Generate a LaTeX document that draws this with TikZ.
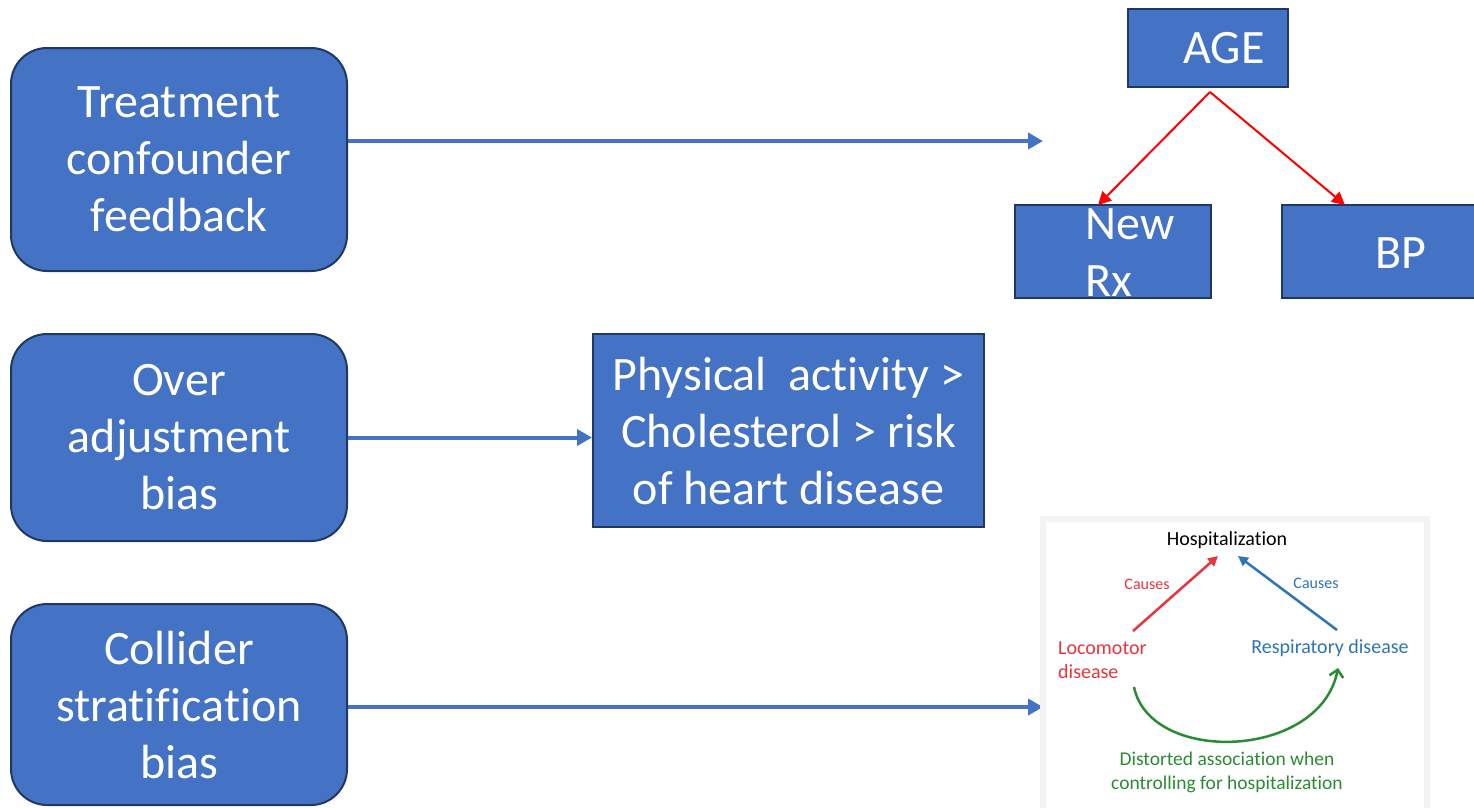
\documentclass[tikz,border=0pt]{standalone}
\usepackage{fontspec}
\setmainfont{Carlito}[Ligatures=NoCommon]
\usetikzlibrary{arrows.meta}
\definecolor{boxblue}{HTML}{4472C4}
\definecolor{boxedge}{HTML}{203864}
\definecolor{linkblue}{HTML}{4472C4}
\definecolor{agered}{HTML}{FF0000}
\definecolor{cred}{HTML}{E8343F}
\definecolor{cblue}{HTML}{2E75B6}
\definecolor{cgreen}{HTML}{2A8C32}
\definecolor{panelgray}{HTML}{F3F3F3}
\tikzset{
  bigfont/.style={font=\fontsize{48}{57}\selectfont},
  lbox/.style={draw=boxedge, fill=boxblue, line width=2pt, rounded corners=36pt,
    text=white, align=center, bigfont, minimum width=336pt, inner sep=0pt},
  sbox/.style={draw=boxedge, fill=boxblue, line width=2pt, text=white,
    align=center, bigfont, inner sep=0pt},
  wtext/.style={text=white, bigfont, inner sep=0pt},
  barrow/.style={draw=linkblue, line width=4pt, -{Triangle[length=15pt,width=16pt]}},
  rarrow/.style={draw=agered, line width=2pt, -{Triangle[length=13pt,width=13pt]}},
  smallfont/.style={font=\fontsize{20}{24}\selectfont, inner sep=0pt},
  tinyfont/.style={font=\fontsize{16}{19}\selectfont, inner sep=0pt},
}
\begin{document}
\begin{tikzpicture}[x=1pt,y=-1pt]
\useasboundingbox (0,0) rectangle (1474,807);
\fill[white] (0,0) rectangle (1474,807);

% left boxes
\node[lbox, minimum height=223pt] (b1) at (179,159.5) {Treatment\\confounder\\feedback};
\node[lbox, minimum height=207pt] (b2) at (179,437.5) {Over\\adjustment\\bias};
\node[lbox, minimum height=201pt] (b3) at (179,704.5) {Collider\\stratification\\bias};

% middle box
\node[sbox, minimum width=391pt, minimum height=193pt] (b4) at (788.5,430.5)
  {Physical\ \ activity >\\Cholesterol > risk\\of heart disease};

% top-right boxes
\node[sbox, minimum width=160pt, minimum height=78pt] (age) at (1208,48) {};
\node[wtext] (agetext) at (1224,48) {AGE};
\node[sbox, minimum width=196pt, minimum height=93pt] (nrx) at (1113,251.5) {};
\node[wtext, align=left] (nrxtext) at (1130,253) {New\\Rx};
\node[sbox, minimum width=196pt, minimum height=93pt] (bp) at (1380,251.5) {};
\node[wtext] (bptext) at (1401,253) {BP};

% blue connectors
\coordinate (a1end) at (1043,141);
\coordinate (a3end) at (1043,707);
\draw[barrow] (b1.east |- a1end) -- (a1end);
\draw[barrow] (b2.east) -- (b4.west |- b2.east);
\draw[barrow] (b3.east |- a3end) -- (a3end);

% red connectors
\coordinate (agebot) at (1210,92);
\coordinate (nrxtop) at (1098,205);
\coordinate (bptop) at (1345,205);
\draw[rarrow] (agebot) -- (nrxtop);
\draw[rarrow] (agebot) -- (bptop);

% bottom-right panel
\draw[panelgray, fill=white, line width=6pt] (1043,519) rectangle (1427,812);
\node[smallfont, text=black] (hosp) at (1227,540) {Hospitalization};
\node[smallfont, text=cred, align=left, anchor=west] (loco) at (1058,660) {Locomotor\\disease};
\node[smallfont, text=cblue] (resp) at (1330,648) {Respiratory disease};
\node[tinyfont, text=cred] (causes1) at (1147,584) {Causes};
\node[tinyfont, text=cblue] (causes2) at (1316,583) {Causes};
\node[font=\fontsize{19.5}{24}\selectfont, inner sep=0pt, text=cgreen, align=center] (dist) at (1227,772)
  {Distorted association when\\controlling for hospitalization};

\coordinate (lstart) at (1133,631);
\coordinate (lend) at (1218,556);
\coordinate (rstart) at (1337,630);
\coordinate (rend) at (1238,556);
\draw[cred, line width=2.5pt, -{Triangle[length=10pt,width=10pt]}] (lstart) -- (lend);
\draw[cblue, line width=2.5pt, -{Triangle[length=10pt,width=10pt]}] (rstart) -- (rend);

\coordinate (gstart) at (1134,687);
\coordinate (gend) at (1338,668);
\draw[cgreen, line width=2.5pt, -{Straight Barb[length=7pt,width=14pt]}]
  (gstart) .. controls (1150,765) and (1320,760) .. (gend);
\end{tikzpicture}
\end{document}
